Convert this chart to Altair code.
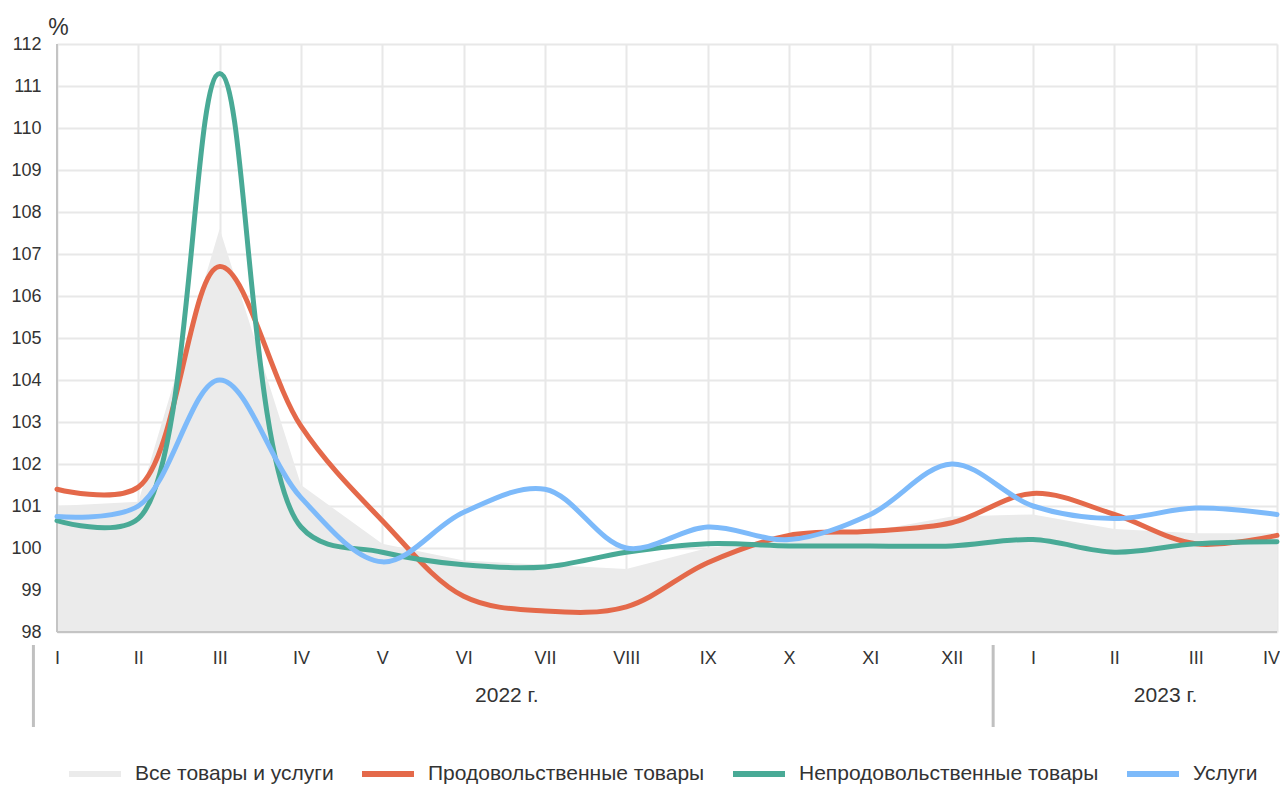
import altair as alt
import pandas as pd

# ---------------- data ----------------
months = ["I", "II", "III", "IV", "V", "VI", "VII", "VIII", "IX", "X", "XI", "XII",
          "I", "II", "III", "IV"]
series = ["Все товары и услуги", "Продовольственные товары",
          "Непродовольственные товары", "Услуги"]
all_goods = [101.0, 101.1, 107.6, 101.5, 100.1, 99.7, 99.6, 99.5, 100.0, 100.25,
             100.4, 100.75, 100.8, 100.45, 100.35, 100.35]
food = [101.4, 101.45, 106.7, 102.9, 100.65, 98.85, 98.5, 98.6, 99.65, 100.3,
        100.4, 100.6, 101.3, 100.8, 100.1, 100.3]
nonfood = [100.65, 100.7, 111.3, 100.5, 99.9, 99.6, 99.55, 99.9, 100.1, 100.05,
           100.05, 100.05, 100.2, 99.9, 100.1, 100.15]
services = [100.75, 101.0, 104.0, 101.2, 99.67, 100.85, 101.4, 100.0, 100.5, 100.2,
            100.8, 102.0, 101.0, 100.7, 100.95, 100.8]
years = ["2022 г.", "2023 г."]
y_ticks = list(range(98, 113))

# ---------------- style / layout ----------------
colors = ["#EBEBEB", "#E4694A", "#49AA96", "#7DBAFA"]
FONT = "Liberation Sans"
TXT = "#333333"
year_pos = [5.53, 13.63]
sep_pos = [-0.29, 11.51]

idx = list(range(len(months)))
last = len(months) - 1
area_df = pd.DataFrame({"i": idx, "v": all_goods})
rows = []
for k, (name, vals) in enumerate([(series[1], food), (series[2], nonfood), (series[3], services)]):
    for i, v in enumerate(vals):
        rows.append({"i": i, "v": v, "s": name, "k": k})
lines_df = pd.DataFrame(rows)
years_df = pd.DataFrame({"i": year_pos, "t": years})
sep_df = pd.DataFrame({"i": sep_pos})

label_expr = "[" + ",".join("'%s'" % m for m in months) + "][datum.value]"

x_scale = alt.Scale(domain=[0, last], nice=False, zero=False)
y_scale = alt.Scale(domain=[98, 112], nice=False, zero=False)

x_enc = alt.X(
    "i:Q", scale=x_scale,
    axis=alt.Axis(values=idx, labelExpr=label_expr, grid=True, gridColor="#E8E8E8",
                  gridWidth=2, ticks=False, domain=False, labelFlush=False,
                  labelOverlap=False, labelBound=False, labelPadding=17,
                  labelOffset={"condition": {"test": "datum.value == %d" % last, "value": -6},
                               "value": 0},
                  labelFontSize=18, labelFont=FONT, labelColor=TXT, title=None),
)
y_enc = alt.Y(
    "v:Q", scale=y_scale,
    axis=alt.Axis(values=y_ticks, grid=True, gridColor="#E8E8E8", gridWidth=2,
                  ticks=False, domain=False, labelPadding=16, labelFontSize=18,
                  labelFont=FONT, labelColor=TXT,
                  title="%", titleAngle=0, titleX=1, titleY=-17, titleAlign="center",
                  titleBaseline="middle", titleFontSize=23, titleFontWeight="normal",
                  titleFont=FONT, titleColor=TXT),
)

area = alt.Chart(area_df).mark_area(color=colors[0], interpolate="linear").encode(
    x=x_enc, y=y_enc, y2=alt.datum(98)
)

axis_df = pd.DataFrame({"a": [0]})
bottom_line = alt.Chart(axis_df).mark_rule(color="#C4C4C4", strokeWidth=2).encode(
    x=alt.datum(0), x2=alt.datum(last), y=alt.datum(98)
)
left_line = alt.Chart(axis_df).mark_rule(color="#C4C4C4", strokeWidth=2).encode(
    x=alt.datum(0), y=alt.datum(98), y2=alt.datum(112)
)

lines = alt.Chart(lines_df).mark_line(interpolate="catmull-rom", strokeWidth=5,
                                      strokeCap="round").encode(
    x="i:Q",
    y="v:Q",
    color=alt.Color(
        "s:N",
        scale=alt.Scale(domain=series, range=colors),
        legend=alt.Legend(
            orient="none", legendX=9, legendY=701, direction="horizontal",
            title=None, symbolType="stroke", symbolStrokeWidth=6, symbolSize=2704,
            labelFontSize=21, labelFont=FONT, labelColor=TXT, labelOffset=11,
            columnPadding=16, labelLimit=0, padding=0,
        ),
    ),
    order="k:Q",
)

year_text = alt.Chart(years_df).mark_text(
    fontSize=21, font=FONT, color=TXT, baseline="middle", align="center"
).encode(x="i:Q", y=alt.value(652), text="t:N")

seps = alt.Chart(sep_df).mark_rule(color="#C0C0C0", strokeWidth=3).encode(
    x="i:Q", y=alt.value(601), y2=alt.value(683)
)

chart = alt.layer(area, bottom_line, left_line, lines, year_text, seps).properties(
    width=1220, height=588,
    autosize=alt.AutoSizeParams(type="none"),
    padding={"left": 49, "top": 36, "right": 3, "bottom": 158},
).configure_view(stroke=None)

chart.save("out.html", embed_options={"renderer": "svg", "actions": False})
